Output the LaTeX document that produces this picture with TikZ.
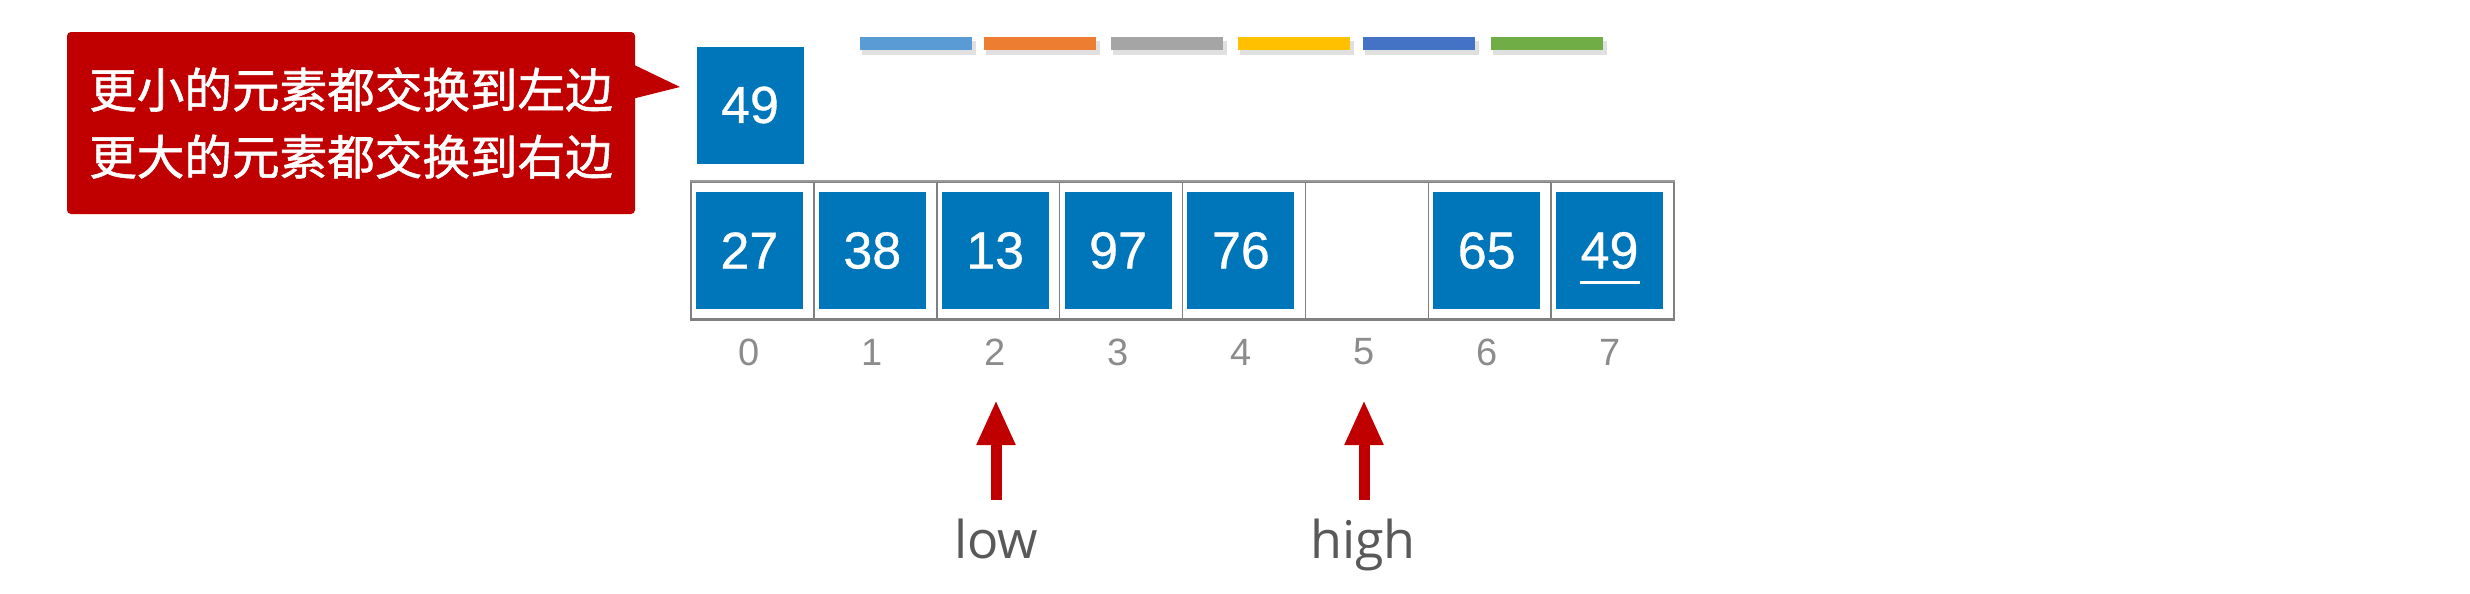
\documentclass[tikz,border=0pt]{standalone}
\usepackage{fontspec}
\setmainfont{Liberation Sans}
\newfontfamily\cjk[FakeBold=1.2]{Noto Sans CJK SC}
\newfontfamily\numfont[FakeBold=0.6]{Liberation Sans}
\newfontfamily\lblfont{Open Sans}
\usetikzlibrary{arrows.meta,calc}
\definecolor{boxblue}{RGB}{0,118,186}
\definecolor{calred}{RGB}{192,0,0}
\definecolor{framegray}{RGB}{128,128,128}
\definecolor{idxgray}{RGB}{140,140,140}
\definecolor{lblgray}{RGB}{89,89,89}
\definecolor{barA}{HTML}{5B9BD5}
\definecolor{barB}{HTML}{ED7D31}
\definecolor{barC}{HTML}{A5A5A5}
\definecolor{barD}{HTML}{FFC000}
\definecolor{barE}{HTML}{4472C4}
\definecolor{barF}{HTML}{70AD47}
\tikzset{
  cellbox/.style={draw=framegray, line width=0.75pt, minimum width=61.44pt, minimum height=68.5pt, inner sep=0pt},
  numbox/.style={fill=boxblue, text=white, minimum width=53.5pt, minimum height=58.5pt, inner sep=0pt,
    font={\numfont\fontsize{26pt}{30pt}\selectfont}},
  idxlabel/.style={text=idxgray, inner sep=0pt, font=\fontsize{19pt}{22pt}\selectfont},
  callbox/.style={fill=calred, text=white, rounded corners=2pt, minimum width=284pt, minimum height=91pt,
    align=center, inner sep=0pt, font={\cjk\fontsize{23.8pt}{33.5pt}\selectfont}},
  ptrlabel/.style={text=lblgray, inner sep=0pt, font={\lblfont\fontsize{26pt}{30pt}\selectfont}},
  ptr/.style={calred, line width=5.5pt, -{Triangle[width=18pt,length=22.5pt]}},
  colorbar/.style={minimum width=56pt, minimum height=6.5pt, inner sep=0pt},
}
\begin{document}
\begin{tikzpicture}[x=0.5pt,y=-0.5pt]
\fill[white] (0,0) rectangle (2470,594);
\useasboundingbox (0,0) rectangle (2470,594);

% colored bars with shadow
\foreach \x/\c in {916/barA,1039.5/barB,1166.5/barC,1293.5/barD,1418.5/barE,1547/barF}{
  \fill[black!12] (\x-54,41) rectangle (\x+60,55);
  \node[colorbar, fill=\c] (bar\c) at (\x,43.5) {};
}

% callout
\node[callbox] (call) at (351,123) {更小的元素都交换到左边\\更大的元素都交换到右边};
\fill[calred] ($(call.north east)+(-6,31)$) -- (680,87) -- ($(call.north east)+(-6,68)$) -- cycle;

% pivot box
\node[numbox] (top49) at (750,105) {49};

% array cells
\foreach \i in {0,...,7}{
  \node[cellbox] (c\i) at ({691+122.875*(\i+0.5)},250.5) {};
  \node[idxlabel] (i\i) at ($(c\i.center)+(-3,101.5)$) {\i};
}
\draw[framegray, line width=1.5pt] (c0.south west) -- (c7.south east);
\draw[framegray!80, line width=1pt] (c0.north west) -- (c7.north east);

\foreach \i/\v in {0/27,1/38,2/13,3/97,4/76,6/65,7/49}{
  \node[numbox] (b\i) at ($(c\i.center)+(-3,0)$) {\v};
}
\draw[white, line width=1.5pt] ($(b7.center)+(-30,31.5)$) -- ($(b7.center)+(30,31.5)$);

% pointers
\node[ptrlabel, anchor=base] (low) at (996,558) {low};
\node[ptrlabel, anchor=base] (high) at (1363,558) {high};
\coordinate (lowtail) at (996,500);
\coordinate (lowtip) at (996,400);
\coordinate (hightail) at (1364,500);
\coordinate (hightip) at (1364,400);
\draw[ptr] (lowtail) -- (lowtip);
\draw[ptr] (hightail) -- (hightip);
\end{tikzpicture}
\end{document}
